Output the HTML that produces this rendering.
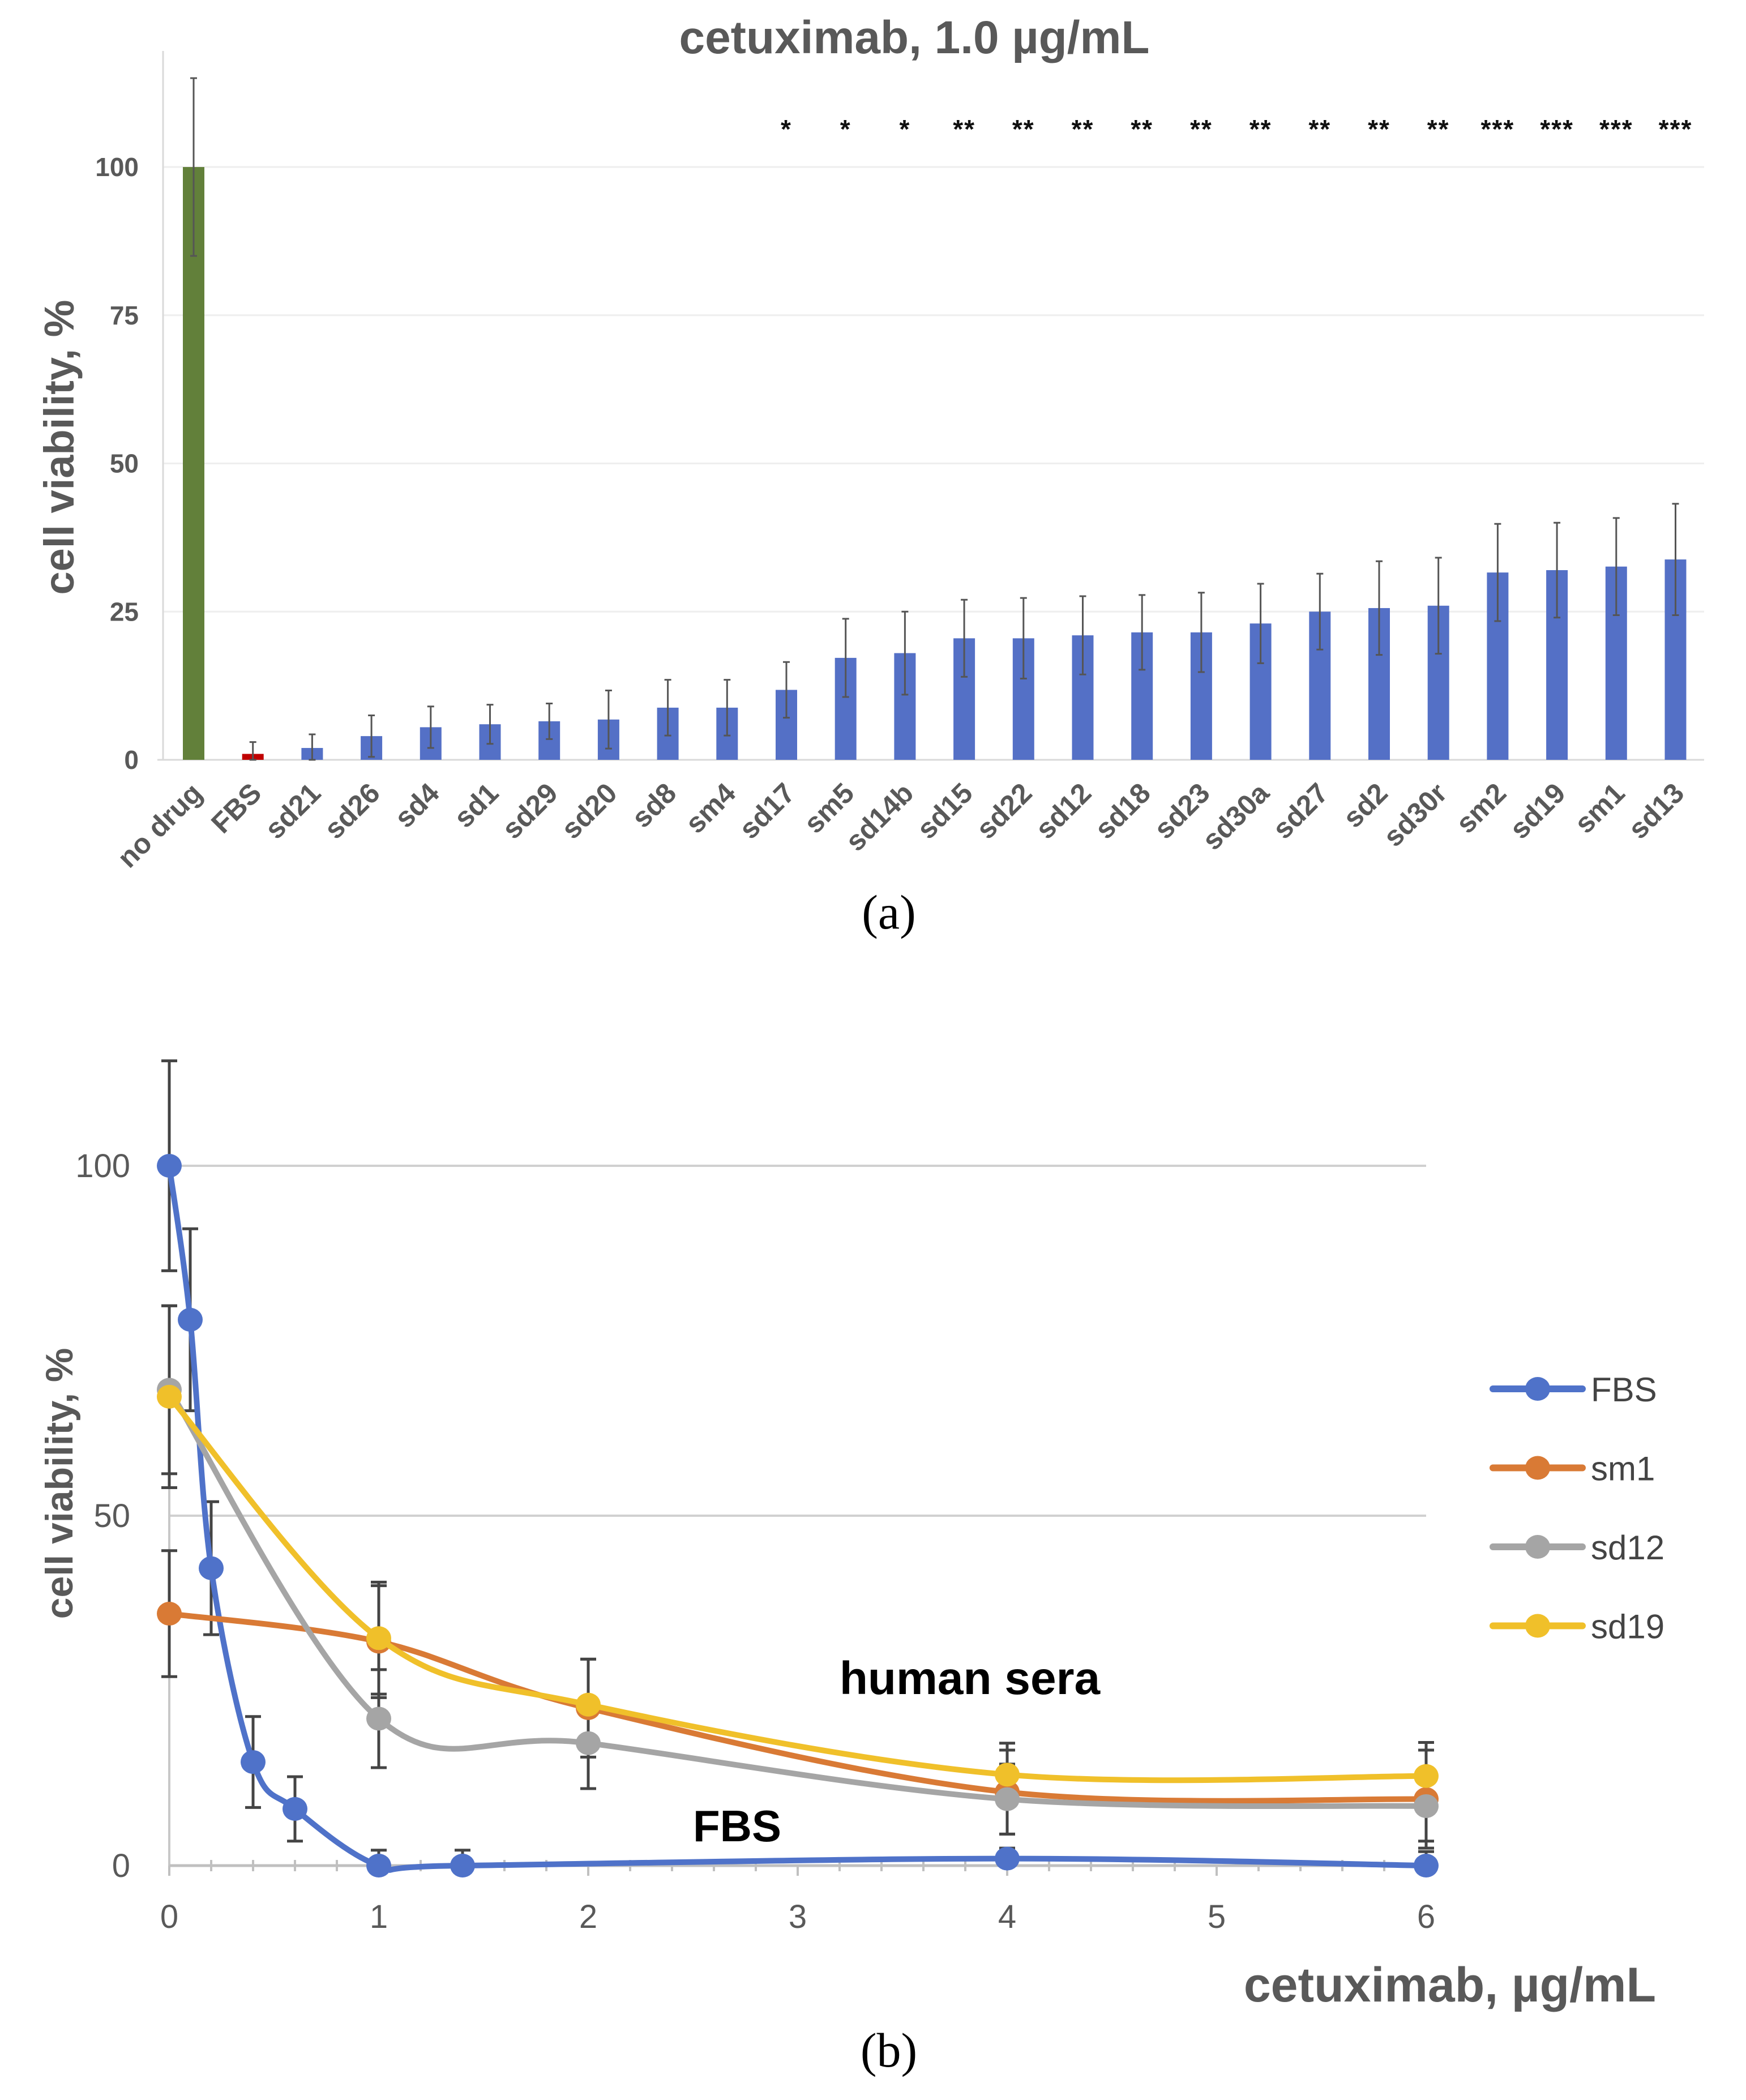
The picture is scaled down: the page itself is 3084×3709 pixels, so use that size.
<!DOCTYPE html>
<html><head><meta charset="utf-8"><style>
html,body{margin:0;padding:0;background:#fff;}
svg{display:block;font-family:"Liberation Sans",sans-serif;}
</style></head><body>
<svg id="fig" width="3084" height="3709" viewBox="0 0 3084 3709" xmlns="http://www.w3.org/2000/svg">
<g id="chartA"></g>
<g id="chartB"></g>
</svg>
<script>
const catsA = ["no drug","FBS","sd21","sd26","sd4","sd1","sd29","sd20","sd8","sm4","sd17","sm5","sd14b","sd15","sd22","sd12","sd18","sd23","sd30a","sd27","sd2","sd30r","sm2","sd19","sm1","sd13"];
const valsA = [100,1,2,4,5.5,6,6.5,6.8,8.8,8.8,11.8,17.2,18,20.5,20.5,21,21.5,21.5,23,25,25.6,26,31.6,32,32.6,33.8];
const errA = [15,2,2.3,3.5,3.5,3.3,3,4.9,4.7,4.7,4.7,6.6,7,6.5,6.8,6.6,6.3,6.7,6.7,6.4,7.9,8.1,8.2,8,8.2,9.4];
const starsA = ["","","","","","","","","","","*","*","*","**","**","**","**","**","**","**","**","**","***","***","***","***"];
const ticksA = [0,25,50,75,100];

const xsB = [0,0.1,0.2,0.4,0.6,1,1.4,4,6];
const fbsY = [100,78,42.5,14.8,8.1,0,0,1,0];
const fbsErr = [15,13,9.5,6.5,4.6,2.2,2.2,1.5,2];
const xsH = [0,1,2,4,6];
const sm1Y = [36,32,22.5,10.5,9.5];
const sm1Err = [9,8,7,6,7];
const sd12Y = [68,21,17.5,9.5,8.5];
const sd12Err = [12,7,6.5,5,5];
const sd19Y = [67,32.5,23,13,12.8];
const sd19Err = [13,8,6.5,4.5,4.8];
const ticksBy = [0,50,100];
const ticksBx = [0,1,2,3,4,5,6];

const NS="http://www.w3.org/2000/svg";
function mk(parent,tag,attrs,text){const e=document.createElementNS(NS,tag);for(const k in attrs)e.setAttribute(k,attrs[k]);if(text!==undefined)e.textContent=text;parent.appendChild(e);return e;}

// ---------- chart A ----------
const A=document.getElementById('chartA');
const ax0=288, ax1=3010, ay0=1342, ayPer=10.47;
const yA=v=>ay0-v*ayPer;
const xA=i=>342+i*104.7;
let t=mk(A,'text',{x:1615,y:94,'text-anchor':'middle','font-size':82,'font-weight':'bold',fill:'#595959'},'cetuximab, 1.0 µg/mL');


ticksA.forEach(v=>{
  if(v>0){let g=mk(A,'line',{x1:ax0,x2:ax1,y1:yA(v),y2:yA(v),stroke:'#eeeeee','stroke-width':3});
  
  }
  let l=mk(A,'text',{x:245,y:yA(v)+16,'text-anchor':'end','font-size':46,'font-weight':'bold',fill:'#595959'},String(v));
  
  
});
let ya=mk(A,'line',{x1:ax0,x2:ax0,y1:90,y2:ay0,stroke:'#d9d9d9','stroke-width':3});


let xa=mk(A,'line',{x1:ax0-10,x2:ax1,y1:ay0,y2:ay0,stroke:'#d9d9d9','stroke-width':3});


let yt=mk(A,'text',{x:0,y:0,transform:'translate(130,790) rotate(-90)','text-anchor':'middle','font-size':74,'font-weight':'bold',fill:'#595959'},'cell viability, %');


catsA.forEach((c,i)=>{
  const cx=xA(i), col=i===0?'#62803a':(i===1?'#c00000':'#5470c6');
  let b=mk(A,'rect',{x:cx-19,y:yA(valsA[i]),width:38,height:valsA[i]*ayPer,fill:col});
  
  
  const top=yA(valsA[i]+errA[i]), bot=yA(Math.max(valsA[i]-errA[i],0));
  let e=mk(A,'path',{d:`M${cx},${top}V${bot}M${cx-6},${top}H${cx+6}M${cx-6},${bot}H${cx+6}`,stroke:'#555','stroke-width':3,fill:'none'});
  
  
  let l=mk(A,'text',{x:0,y:0,transform:`translate(${cx+18},${ay0+62}) rotate(-45)`,'text-anchor':'end','font-size':50,'font-weight':'bold',fill:'#595959'},c);
  
  
  if(starsA[i]){let s=mk(A,'text',{x:cx,y:244,'text-anchor':'middle','font-size':46,'font-weight':'bold',fill:'#111','letter-spacing':2},starsA[i]);
  
  }
});
let pa=mk(A,'text',{x:1570,y:1640,'text-anchor':'middle','font-size':86,'font-family':'Liberation Serif, serif',fill:'#000'},'(a)');



// ---------- chart B ----------
const B=document.getElementById('chartB');
const bx0=299, bxPer=370, by0=3295, byPer=12.36;
const xB=v=>bx0+v*bxPer, yB=v=>by0-v*byPer;
ticksBy.forEach(v=>{
  if(v>0){let g=mk(B,'line',{x1:bx0,x2:xB(6),y1:yB(v),y2:yB(v),stroke:'#d0d0d0','stroke-width':4});
  
  }
  let l=mk(B,'text',{x:230,y:yB(v)+20,'text-anchor':'end','font-size':58,fill:'#595959'},String(v));
  
  
});
let vb=mk(B,'line',{x1:bx0,x2:bx0,y1:yB(0),y2:yB(55),stroke:'#c8c8c8','stroke-width':4});


let hb=mk(B,'line',{x1:bx0,x2:xB(6),y1:by0,y2:by0,stroke:'#c0c0c0','stroke-width':5});


for(let k=0;k<=30;k++){
  const tx=xB(k*0.2), big=(k%5===0);
  let tk=mk(B,'line',{x1:tx,x2:tx,y1:by0-(big?0:10),y2:by0+(big?18:10),stroke:'#c0c0c0','stroke-width':4});
  
  
}
ticksBx.forEach(v=>{
  let l=mk(B,'text',{x:xB(v),y:by0+110,'text-anchor':'middle','font-size':58,fill:'#595959'},String(v));
  
  
});
function errBars(xs,ys,es,name){
  xs.forEach((x,i)=>{
    const cx=xB(x), top=yB(ys[i]+es[i]), bot=yB(Math.max(ys[i]-es[i],0));
    let e=mk(B,'path',{d:`M${cx},${top}V${bot}M${cx-14},${top}H${cx+14}M${cx-14},${bot}H${cx+14}`,stroke:'#444','stroke-width':5,fill:'none'});
    
    
  });
}
function smooth(xs,ys){
  const P=xs.map((x,i)=>[xB(x),yB(ys[i])]);
  let d=`M${P[0][0]},${P[0][1]}`;
  for(let i=0;i<P.length-1;i++){
    const p0=P[Math.max(i-1,0)],p1=P[i],p2=P[i+1],p3=P[Math.min(i+2,P.length-1)];
    const c1=[p1[0]+(p2[0]-p0[0])/6,p1[1]+(p2[1]-p0[1])/6];
    const c2=[p2[0]-(p3[0]-p1[0])/6,p2[1]-(p3[1]-p1[1])/6];
    d+=`C${c1[0]},${c1[1]} ${c2[0]},${c2[1]} ${p2[0]},${p2[1]}`;
  }
  return d;
}
function series(xs,ys,col,name){
  let p=mk(B,'path',{d:smooth(xs,ys),stroke:col,'stroke-width':10,fill:'none','stroke-linecap':'round'});
  
  
  xs.forEach((x,i)=>{
    let c=mk(B,'ellipse',{cx:xB(x),cy:yB(ys[i]),rx:22,ry:21,fill:col});
    
    
  });
}
errBars(xsB,fbsY,fbsErr,'fbs');
errBars(xsH,sm1Y,sm1Err,'sm1');
errBars(xsH,sd12Y,sd12Err,'sd12');
errBars(xsH,sd19Y,sd19Err,'sd19');
series(xsB,fbsY,'#4f72c9','fbs');
series(xsH,sm1Y,'#d97a35','sm1');
series(xsH,sd12Y,'#a5a5a5','sd12');
series(xsH,sd19Y,'#f0c02a','sd19');
let ytb=mk(B,'text',{x:0,y:0,transform:'translate(128,2620) rotate(-90)','text-anchor':'middle','font-size':68,'font-weight':'bold',fill:'#595959'},'cell viability, %');


let xtb=mk(B,'text',{x:2925,y:3535,'text-anchor':'end','font-size':86,'font-weight':'bold',fill:'#595959'},'cetuximab, µg/mL');


let hs=mk(B,'text',{x:1713,y:2992,'text-anchor':'middle','font-size':82,'font-weight':'bold',fill:'#000'},'human sera');


let fa=mk(B,'text',{x:1302,y:3252,'text-anchor':'middle','font-size':78,'font-weight':'bold',fill:'#000'},'FBS');


const legNames=['FBS','sm1','sd12','sd19'], legCols=['#4f72c9','#d97a35','#a5a5a5','#f0c02a'];
legNames.forEach((n,i)=>{
  const ly=2453+i*139.5;
  let g=mk(B,'g',{});
  
  
  mk(g,'line',{x1:2637,x2:2795,y1:ly,y2:ly,stroke:legCols[i],'stroke-width':12,'stroke-linecap':'round'});
  mk(g,'ellipse',{cx:2716,cy:ly,rx:22,ry:21,fill:legCols[i]});
  mk(g,'text',{x:2810,y:ly+22,'font-size':60,fill:'#444'},n);
});
let pb=mk(B,'text',{x:1570,y:3650,'text-anchor':'middle','font-size':86,'font-family':'Liberation Serif, serif',fill:'#000'},'(b)');


</script>
</body></html>
